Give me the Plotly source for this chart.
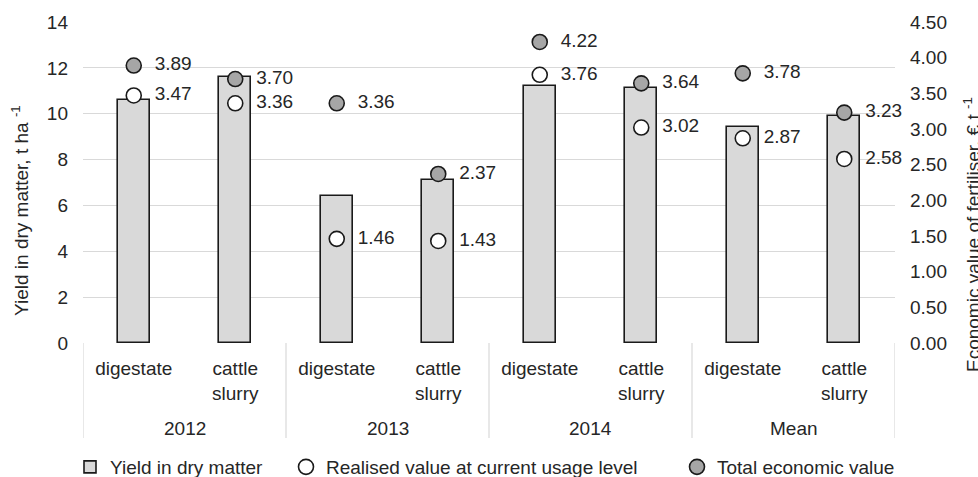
import plotly.graph_objects as go

# ---- data ----
years = ["2012", "2013", "2014", "Mean"]
fertilisers = ["digestate", "cattle<br>slurry"]
categories = [f for y in years for f in fertilisers]
yield_dm = [10.6, 11.6, 6.4, 7.1, 11.2, 11.1, 9.4, 9.9]
realised_value = [3.47, 3.36, 1.46, 1.43, 3.76, 3.02, 2.87, 2.58]
total_value = [3.89, 3.70, 3.36, 2.37, 4.22, 3.64, 3.78, 3.23]

series_names = ["Yield in dry matter", "Realised value at current usage level", "Total economic value"]

FONT = "Liberation Sans, Arial, sans-serif"
TXT = "#262626"
FS = 19

W, H = 978, 477
L, R, T, B = 83, 83, 22, 134
pw, ph = W - L - R, H - T - B

def px_x(p):
    return (p - L) / pw

def px_y(p):
    return (H - B - p) / ph

xs = list(range(len(categories)))
PAD = "\u00a0\u00a0"

fig = go.Figure()
fig.add_trace(go.Bar(
    x=xs, y=yield_dm, name=series_names[0], width=0.315,
    marker=dict(color="#d9d9d9", line=dict(color="#1a1a1a", width=1.6)),
    legend="legend", yaxis="y", showlegend=True,
))
fig.add_trace(go.Scatter(
    x=xs, y=realised_value, name=series_names[1], yaxis="y2",
    mode="markers+text", text=[f"{PAD}{v:.2f}" for v in realised_value],
    textposition="middle right", textfont=dict(family=FONT, size=FS, color=TXT),
    marker=dict(size=15, color="white", line=dict(color="#1a1a1a", width=1.6)),
    legend="legend2", showlegend=True, cliponaxis=False,
))
fig.add_trace(go.Scatter(
    x=xs, y=total_value, name=series_names[2], yaxis="y2",
    mode="markers+text", text=[f"{PAD}{v:.2f}" for v in total_value],
    textposition="middle right", textfont=dict(family=FONT, size=FS, color=TXT),
    marker=dict(size=15, color="#a6a6a6", line=dict(color="#1a1a1a", width=1.6)),
    legend="legend3", showlegend=True, cliponaxis=False,
))

shapes = []
n_f = len(fertilisers)
for i in range(len(years) + 1):
    xv = i * n_f - 0.5
    shapes.append(dict(type="line", xref="x", yref="paper", x0=xv, x1=xv,
                       y0=0, y1=px_y(438), line=dict(color="#d9d9d9", width=1.2)))

annotations = []
for i, yr in enumerate(years):
    annotations.append(dict(text=yr, xref="x", yref="paper", x=i * n_f + (n_f - 1) / 2,
                            y=px_y(428), showarrow=False, yanchor="middle",
                            font=dict(family=FONT, size=FS, color=TXT)))
annotations.append(dict(text="Yield in dry matter, t ha <sup>-1</sup>", textangle=-90,
                        xref="paper", yref="paper", x=px_x(20), y=px_y(211),
                        showarrow=False, xanchor="center", yanchor="middle",
                        font=dict(family=FONT, size=FS, color=TXT)))
annotations.append(dict(text="Economic value of fertiliser, € t <sup>-1</sup>", textangle=-90,
                        xref="paper", yref="paper", x=px_x(972), y=px_y(235),
                        showarrow=False, xanchor="center", yanchor="middle",
                        font=dict(family=FONT, size=FS, color=TXT)))

leg_common = dict(orientation="h", yanchor="middle", xanchor="left", y=px_y(467),
                  font=dict(family=FONT, size=FS, color=TXT), bgcolor="rgba(0,0,0,0)",
                  itemwidth=30)

fig.update_layout(
    width=W, height=H, margin=dict(l=L, r=R, t=T, b=B, autoexpand=False),
    paper_bgcolor="white", plot_bgcolor="white",
    font=dict(family=FONT, size=FS, color=TXT),
    showlegend=True,
    bargap=0,
    xaxis=dict(range=[-0.5, len(categories) - 0.5], tickvals=xs, ticktext=categories,
               showgrid=False, zeroline=False, showline=False, ticks="outside",
               ticklen=8, tickcolor="rgba(0,0,0,0)",
               tickfont=dict(family=FONT, size=FS, color=TXT)),
    yaxis=dict(range=[0, 14], dtick=2, showgrid=True, gridcolor="#d9d9d9", gridwidth=1.2,
               zeroline=False, showline=False, ticklabelstandoff=14,
               tickfont=dict(family=FONT, size=FS, color=TXT)),
    yaxis2=dict(range=[0, 4.5], dtick=0.5, tickformat=".2f", overlaying="y", side="right",
                showgrid=False, zeroline=False, showline=False, ticklabelstandoff=14,
                tickfont=dict(family=FONT, size=FS, color=TXT)),
    shapes=shapes, annotations=annotations,
    legend=dict(leg_common, x=px_x(110 - 40)),
    legend2=dict(leg_common, x=px_x(326 - 40)),
    legend3=dict(leg_common, x=px_x(717 - 40)),
)

fig.write_html("out.html", config={"displayModeBar": False},
               post_script="document.body.style.margin='0px';")
